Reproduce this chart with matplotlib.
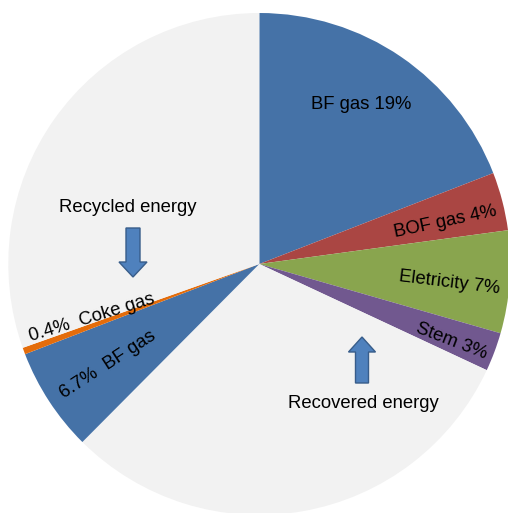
import numpy as np
import matplotlib.pyplot as plt
import matplotlib.patches as mpatches

plt.rcParams['font.family'] = ['Liberation Sans', 'DejaVu Sans']

# shares of the pie, clockwise from 12 o'clock (percent)
shares = [19.1, 3.75, 6.6, 2.5, 30.5, 6.7, 0.43, 30.42]
colors = ["#4572A7", "#AA4643", "#89A54E", "#71588F", "#F2F2F2",
          "#4572A7", "#E46C0A", "#F2F2F2"]
labels = ["BF gas 19%", "BOF gas 4%", "Eletricity 7%", "Stem 3%",
          "6.7%  BF gas", "0.4%  Coke gas"]
# polar placement of the labels (degrees, fraction of radius) and rotation
label_ang = [57.4, 12.7, -5.7, -21.8, 213.7, 197.7]
label_r = [0.752, 0.759, 0.763, 0.827, 0.725, 0.70]
label_rot = [0, 12, -7, -21, 33, 17]

W, H = 508, 513
cx, cy, R = 259.3, H - 264, 251

fig = plt.figure(figsize=(W / 100, H / 100), dpi=100)
ax = fig.add_axes([0, 0, 1, 1])
wedges, _ = ax.pie(shares, colors=colors, startangle=90, counterclock=False,
                   center=(cx, cy), radius=R,
                   wedgeprops=dict(linewidth=0))
ax.set_xlim(0, W)
ax.set_ylim(0, H)
ax.set_aspect('equal')
ax.axis('off')

for lab, a, rf, rot in zip(labels, label_ang, label_r, label_rot):
    t = np.deg2rad(a)
    ax.text(cx + rf * R * np.cos(t), cy + rf * R * np.sin(t), lab,
            ha='center', va='center', rotation=rot, fontsize=13.3,
            rotation_mode='anchor')

# notes with arrows
ax.text(128, H - 208, "Recycled energy", ha='center', va='center', fontsize=13.3)
ax.add_patch(mpatches.FancyArrow(133, H - 228, 0, -49, width=14, head_width=28,
                                 head_length=15, length_includes_head=True,
                                 fc="#4F81BD", ec="#385D8A", lw=1))
ax.text(363, H - 404, "Recovered energy", ha='center', va='center', fontsize=13.3)
ax.add_patch(mpatches.FancyArrow(362, H - 383, 0, 46, width=13, head_width=27,
                                 head_length=15, length_includes_head=True,
                                 fc="#4F81BD", ec="#385D8A", lw=1))

plt.savefig('out.png', dpi=100, facecolor='white')
